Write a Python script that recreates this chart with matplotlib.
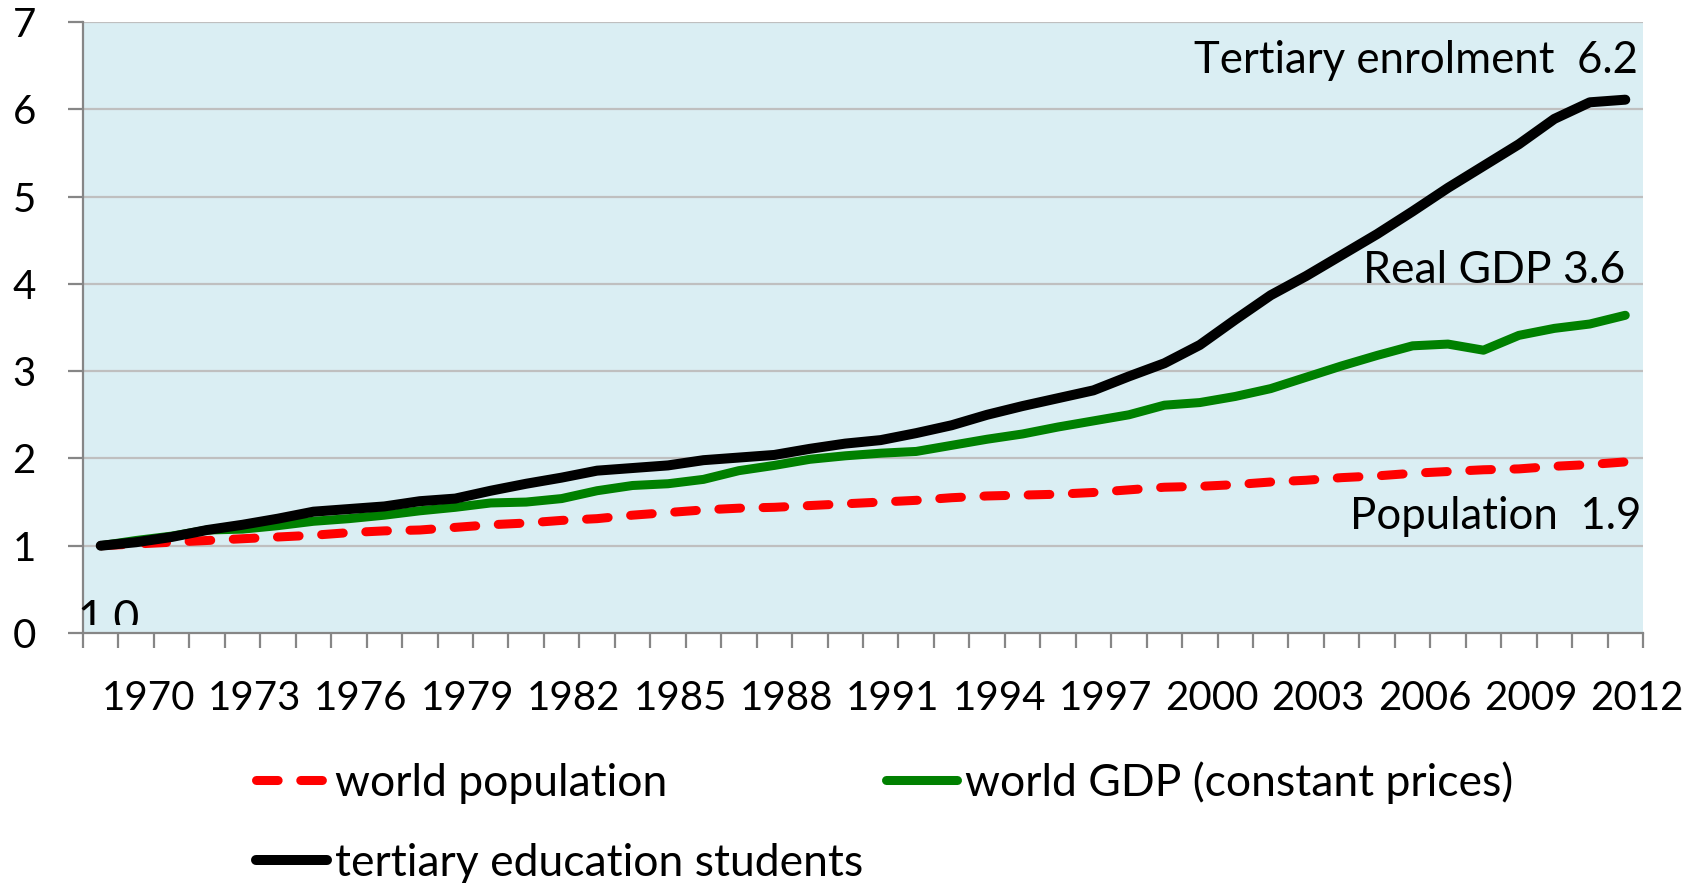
import numpy as np
import matplotlib
matplotlib.use('Agg')
import matplotlib.pyplot as plt
import matplotlib.transforms as mtransforms
from matplotlib.patches import Rectangle

plt.rcParams['font.family'] = ['Lato', 'DejaVu Sans']

years = list(range(1969, 2013))

population = [1.00, 1.02, 1.04, 1.06, 1.08, 1.10, 1.12, 1.15, 1.17, 1.18, 1.21, 1.24,
              1.26, 1.29, 1.31, 1.35, 1.38, 1.41, 1.43, 1.44, 1.46, 1.48,
              1.50, 1.52, 1.55, 1.57, 1.58, 1.59, 1.61, 1.64, 1.67, 1.68, 1.70,
              1.73, 1.75, 1.78, 1.80, 1.83, 1.85, 1.87, 1.88, 1.91, 1.93, 1.96]

gdp = [1.00, 1.06, 1.11, 1.18, 1.19, 1.23, 1.28, 1.31, 1.35, 1.40, 1.44, 1.49,
       1.50, 1.54, 1.63, 1.69, 1.71, 1.76, 1.86, 1.92, 1.99, 2.03,
       2.06, 2.08, 2.15, 2.22, 2.28, 2.36, 2.43, 2.50, 2.61, 2.64, 2.71,
       2.80, 2.93, 3.06, 3.18, 3.29, 3.31, 3.24, 3.41, 3.49, 3.54, 3.64]

tertiary = [1.00, 1.04, 1.10, 1.18, 1.24, 1.31, 1.39, 1.42, 1.45, 1.51, 1.54, 1.63,
            1.71, 1.78, 1.86, 1.89, 1.92, 1.98, 2.01, 2.04, 2.11, 2.17,
            2.21, 2.29, 2.38, 2.50, 2.60, 2.69, 2.78, 2.94, 3.09, 3.30, 3.59,
            3.87, 4.09, 4.33, 4.57, 4.83, 5.10, 5.35, 5.60, 5.89, 6.08, 6.11]

label_years = list(range(1970, 2013, 3))

W, H = 1702, 883
fig = plt.figure(figsize=(W / 100, H / 100), dpi=100)
ax = fig.add_axes([83 / W, 1 - 633 / H, (1643 - 83) / W, (633 - 22) / H])
ax.set_facecolor('#DAEEF3')

x = np.arange(len(years))
grey = '#868686'

for v in range(1, 8):
    ax.axhline(v, color='#BFBFBF', lw=1.6, zorder=1)

l_pop, = ax.plot(x, population, color='#FF0000', lw=6.5, dashes=(2.4, 2.5),
                 dash_capstyle='round', solid_capstyle='round', zorder=3)
l_gdp, = ax.plot(x, gdp, color='#008000', lw=6.5, solid_capstyle='round', zorder=4)
l_ter, = ax.plot(x, tertiary, color='#000000', lw=7.2, solid_capstyle='round', zorder=5)

ax.set_xlim(-0.5, len(years) - 0.5)
ax.set_ylim(0, 7)

for s in ['top', 'right']:
    ax.spines[s].set_visible(False)
for s in ['left', 'bottom']:
    ax.spines[s].set_color(grey)
    ax.spines[s].set_linewidth(1.6)
    ax.spines[s].set_zorder(6)

ax.set_yticks(range(0, 8))
ax.tick_params(axis='y', length=11, width=1.6, color=grey, pad=23, labelsize=29)

ax.set_xticks(np.arange(-0.5, len(years), 1.0))
ax.set_xticklabels([])
ax.tick_params(axis='x', which='major', length=11, width=1.6, color=grey)
ax.set_xticks([years.index(y) for y in label_years], minor=True)
ax.set_xticklabels([str(y) for y in label_years], minor=True)
ax.tick_params(axis='x', which='minor', length=0, pad=34, labelsize=29)
shift = mtransforms.ScaledTranslation(12 / 100, 0, fig.dpi_scale_trans)
for lab in ax.get_xticklabels(minor=True):
    lab.set_transform(lab.get_transform() + shift)

ax.text(43.35, 6.56, 'Tertiary enrolment  6.2', ha='right', va='center', fontsize=31.5)
ax.text(43.0, 4.15, 'Real GDP 3.6', ha='right', va='center', fontsize=32)
ax.text(43.45, 1.34, 'Population  1.9', ha='right', va='center', fontsize=31.5)

t10 = ax.text(-0.65, 0.01, '1.0', ha='left', va='baseline', fontsize=32, zorder=7, clip_on=True)
clip = Rectangle((0, (H - 625) / H), 1, 1, transform=fig.transFigure)
t10.set_clip_path(clip)

fig.legend([l_pop, l_ter, l_gdp],
           ['world population', 'tertiary education students', 'world GDP (constant prices)'],
           loc='upper left', bbox_to_anchor=(256 / W, 1 - 761 / H), ncol=2, frameon=False,
           fontsize=32, handlelength=1.6, handletextpad=0.18, columnspacing=0.5,
           labelspacing=0.88, borderpad=0, borderaxespad=0)

fig.savefig('out.png', dpi=100)
